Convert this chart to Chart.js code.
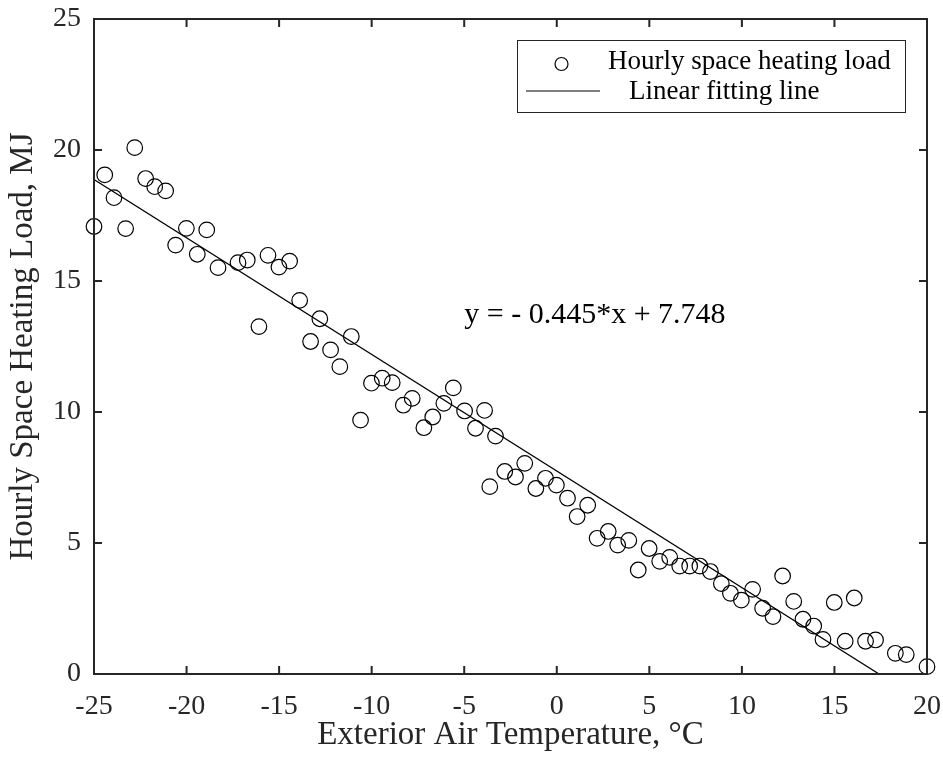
<!DOCTYPE html>
<html>
<head>
<meta charset="utf-8">
<script src="https://cdn.jsdelivr.net/npm/chart.js@4.4.0/dist/chart.umd.min.js"></script>
<style>
  html, body { margin: 0; padding: 0; background: #fff; }
  #wrap { width: 943px; height: 765px; }
</style>
</head>
<body>
<div id="wrap"><canvas id="chart" width="943" height="765"></canvas></div>
<script>
// Exterior air temperature (°C) for each hourly sample
const temps = [
  -25.00, -24.42, -23.92, -23.29, -22.80, -22.21, -21.72, -21.13, -20.59, -20.01,
  -19.42, -18.91, -18.30, -17.22, -16.72, -16.09, -15.60, -15.01, -14.43, -13.89,
  -13.30, -12.80, -12.22, -11.72, -11.10, -10.60, -10.01, -9.43, -8.89, -8.29,
  -7.81, -7.18, -6.70, -6.10, -5.59, -4.98, -4.39, -3.90, -3.62, -3.31,
  -2.81, -2.23, -1.73, -1.13, -0.61, -0.02, 0.58, 1.10, 1.67, 2.18,
  2.78, 3.29, 3.89, 4.40, 4.99, 5.56, 6.10, 6.64, 7.18, 7.73,
  8.30, 8.89, 9.38, 9.97, 10.58, 11.12, 11.68, 12.20, 12.80, 13.30,
  13.88, 14.38, 14.99, 15.58, 16.07, 16.68, 17.22, 18.29, 18.88, 20.00
];

// Hourly space heating load (MJ)
const loads = [
  17.08, 19.05, 18.18, 17.00, 20.09, 18.91, 18.60, 18.44, 16.37, 17.01,
  16.02, 16.95, 15.51, 15.70, 15.80, 13.26, 15.98, 15.53, 15.76, 14.26,
  12.69, 13.56, 12.37, 11.73, 12.88, 9.69, 11.10, 11.29, 11.12, 10.26,
  10.52, 9.40, 9.81, 10.33, 10.92, 10.04, 9.38, 10.06, 7.15, 9.08,
  7.73, 7.52, 8.04, 7.08, 7.47, 7.21, 6.71, 6.01, 6.44, 5.18,
  5.44, 4.92, 5.10, 3.97, 4.79, 4.30, 4.45, 4.12, 4.12, 4.12,
  3.91, 3.45, 3.08, 2.82, 3.23, 2.51, 2.19, 3.74, 2.77, 2.09,
  1.83, 1.32, 2.73, 1.25, 2.90, 1.25, 1.30, 0.79, 0.74, 0.28
];

// Linear fitting line end points
const fitX = [-25, 17.41];
const fitY = [18.87, 0];

const xTicks = [-25, -20, -15, -10, -5, 0, 5, 10, 15, 20];
const yTicks = [0, 5, 10, 15, 20, 25];

const equation = 'y = - 0.445*x + 7.748';
const equationAt = [-5, 13.7];

const axisColor = '#262626';
const serif = "'Liberation Serif', 'Times New Roman', serif";

// box round the plot, inward ticks on all four sides, equation text
const framePlugin = {
  id: 'frame',
  afterDatasetsDraw(chart) {
    const { ctx, chartArea: a, scales: { x, y } } = chart;
    ctx.save();
    ctx.strokeStyle = axisColor;
    ctx.lineWidth = 2;
    ctx.strokeRect(a.left, a.top, a.right - a.left, a.bottom - a.top);
    ctx.beginPath();
    xTicks.forEach(v => {
      const px = x.getPixelForValue(v);
      ctx.moveTo(px, a.bottom); ctx.lineTo(px, a.bottom - 8);
      ctx.moveTo(px, a.top); ctx.lineTo(px, a.top + 8);
    });
    yTicks.forEach(v => {
      const py = y.getPixelForValue(v);
      ctx.moveTo(a.left, py); ctx.lineTo(a.left + 8, py);
      ctx.moveTo(a.right, py); ctx.lineTo(a.right - 8, py);
    });
    ctx.stroke();

    ctx.fillStyle = '#000';
    ctx.font = '30px ' + serif;
    ctx.textAlign = 'left';
    ctx.textBaseline = 'middle';
    ctx.fillText(equation, x.getPixelForValue(equationAt[0]), y.getPixelForValue(equationAt[1]));
    ctx.restore();
  }
};

// MATLAB style legend box in the upper right corner
const legendPlugin = {
  id: 'boxLegend',
  afterDraw(chart) {
    const { ctx } = chart;
    const ds = chart.data.datasets;
    ctx.save();
    ctx.fillStyle = '#fff';
    ctx.fillRect(517.5, 40.5, 388, 72);
    ctx.strokeStyle = axisColor;
    ctx.lineWidth = 1;
    ctx.strokeRect(517.5, 40.5, 388, 72);

    ctx.strokeStyle = '#000';
    ctx.lineWidth = 1.2;
    ctx.beginPath();
    ctx.arc(561.5, 64, 6.5, 0, Math.PI * 2);
    ctx.stroke();
    ctx.beginPath();
    ctx.moveTo(526, 91);
    ctx.lineTo(600, 91);
    ctx.stroke();

    ctx.fillStyle = '#000';
    ctx.font = '27px ' + serif;
    ctx.textAlign = 'left';
    ctx.textBaseline = 'middle';
    ctx.fillText(ds[0].label, 608, 62);
    ctx.fillText(ds[1].label, 629, 92);
    ctx.restore();
  }
};

const ctx = document.getElementById('chart').getContext('2d');
new Chart(ctx, {
  type: 'scatter',
  data: {
    datasets: [
      {
        label: 'Hourly space heating load',
        data: temps.map((t, i) => ({ x: t, y: loads[i] })),
        pointStyle: 'circle',
        pointRadius: 7.8,
        borderColor: '#000',
        borderWidth: 1.2,
        backgroundColor: 'rgba(0,0,0,0)',
        clip: false
      },
      {
        type: 'line',
        label: 'Linear fitting line',
        data: fitX.map((t, i) => ({ x: t, y: fitY[i] })),
        borderColor: '#000',
        borderWidth: 1.3,
        pointRadius: 0,
        fill: false,
        tension: 0
      }
    ]
  },
  options: {
    responsive: false,
    animation: false,
    layout: { padding: { left: 0, top: 19, right: 16, bottom: 0 } },
    plugins: { legend: { display: false }, tooltip: { enabled: false } },
    scales: {
      x: {
        type: 'linear',
        min: -25, max: 20,
        grid: { display: false, drawTicks: false },
        border: { display: false },
        afterBuildTicks: s => { s.ticks = xTicks.map(v => ({ value: v })); },
        afterFit: s => { s.height = 91; s.paddingLeft = 0; s.paddingRight = 0; },
        ticks: { color: axisColor, font: { family: serif, size: 28 }, padding: 16, maxRotation: 0, autoSkip: false },
        title: { display: true, text: 'Exterior Air Temperature, °C', color: axisColor, font: { family: serif, size: 33 }, padding: { top: 0, bottom: 10 } }
      },
      y: {
        type: 'linear',
        min: 0, max: 25,
        grid: { display: false, drawTicks: false },
        border: { display: false },
        afterBuildTicks: s => { s.ticks = yTicks.map(v => ({ value: v })); },
        afterFit: s => { s.width = 94; s.paddingTop = 0; s.paddingBottom = 0; },
        ticks: { color: axisColor, font: { family: serif, size: 28 }, padding: 13 },
        title: { display: true, text: 'Hourly Space Heating Load, MJ', color: axisColor, font: { family: serif, size: 33 }, padding: { top: 4, bottom: 0 } }
      }
    }
  },
  plugins: [framePlugin, legendPlugin]
});
</script>
</body>
</html>
